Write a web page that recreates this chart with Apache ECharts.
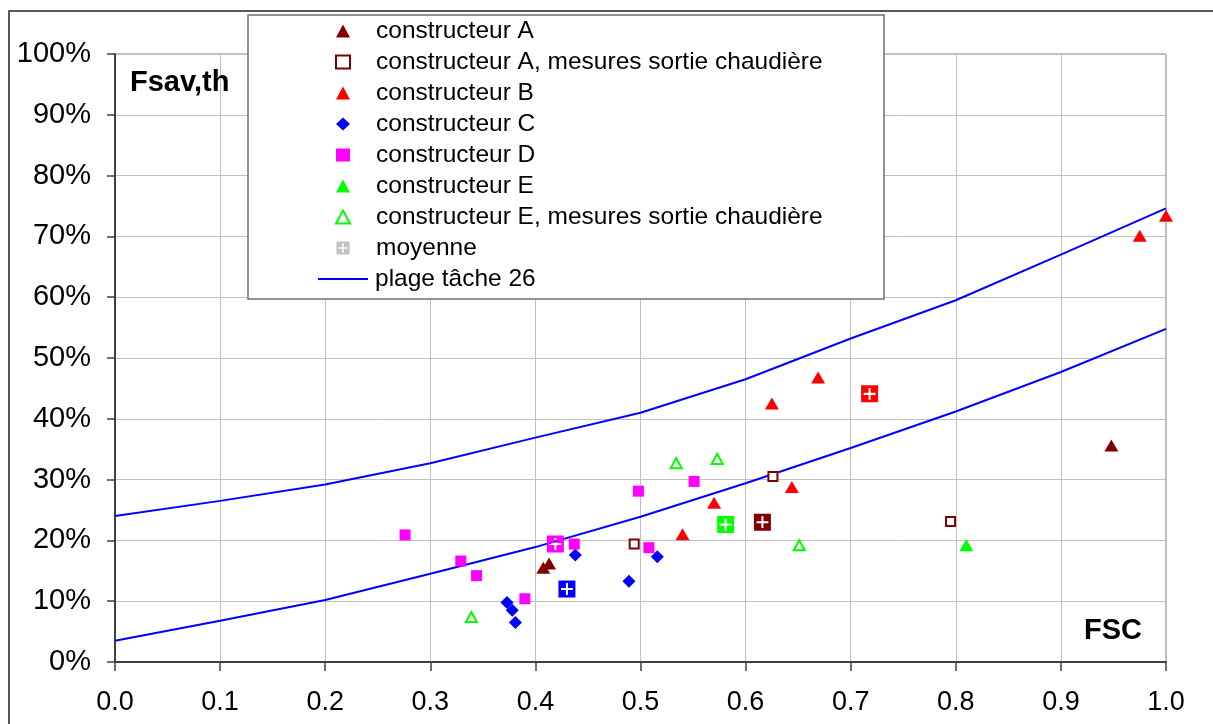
<!DOCTYPE html>
<html>
<head>
<meta charset="utf-8">
<title>Fsav,th en fonction de FSC</title>
<script src="https://cdn.jsdelivr.net/npm/echarts@6/dist/echarts.min.js"></script>
<style>
  html, body { margin: 0; padding: 0; background: #fff; }
  #chart { width: 1213px; height: 724px; }
</style>
</head>
<body>
<div id="chart"></div>
<script>
// abscisses des courbes "plage tâche 26"
const fscGrid = [0.0, 0.1, 0.2, 0.3, 0.4, 0.5, 0.6, 0.7, 0.8, 0.9, 1.0]
const plageHaute = [24.0, 26.5, 29.2, 32.7, 36.9, 41.0, 46.5, 53.2, 59.5, 67.0, 74.6]
const plageBasse = [3.5, 6.8, 10.2, 14.5, 18.9, 23.9, 29.4, 35.2, 41.2, 47.7, 54.8]

// points mesurés [FSC, Fsav,th en %]
const constA = [[0.4075, 15.5], [0.413, 16.2], [0.948, 35.6]]
const constASortie = [[0.494, 19.4], [0.626, 30.5], [0.795, 23.1]]
const constB = [[0.540, 21.0], [0.570, 26.2], [0.625, 42.5], [0.644, 28.8], [0.669, 46.8], [0.975, 70.1], [1.0, 73.4]]
const constC = [[0.373, 9.8], [0.378, 8.5], [0.381, 6.5], [0.438, 17.6], [0.489, 13.3], [0.516, 17.3]]
const constD = [[0.276, 20.9], [0.329, 16.6], [0.344, 14.2], [0.390, 10.4], [0.437, 19.4], [0.498, 28.1], [0.508, 18.8], [0.551, 29.7]]
const constE = [[0.810, 19.2]]
const constESortie = [[0.339, 7.4], [0.534, 32.7], [0.573, 33.4], [0.651, 19.2]]
const moyenne = [[0.419, 19.4], [0.430, 12.0], [0.581, 22.6], [0.616, 23.0], [0.718, 44.1]]
const moyenneConstructeur = ['D', 'C', 'E', 'A', 'B']

const yTicks = [0, 10, 20, 30, 40, 50, 60, 70, 80, 90, 100]

const couleurs = { A: '#800000', B: '#ff0000', C: '#0000ff', D: '#ff00ff', E: '#00ff00' }
const font = '"Liberation Sans", Arial, sans-serif'
// carré avec une croix évidée (règle nonzero)
const croixPath = 'path://M0,0H20V20H0Z' +
  'M8.8,3L8.8,8.8L3,8.8L3,11.2L8.8,11.2L8.8,17L11.2,17L11.2,11.2L17,11.2L17,8.8L11.2,8.8L11.2,3Z'

const chart = echarts.init(document.getElementById('chart'))

function nuage (name, data, symbol, size, color, hollow) {
  return {
    name: name,
    type: 'scatter',
    data: data,
    symbol: symbol,
    symbolSize: size,
    z: 3,
    itemStyle: hollow
      ? { color: '#ffffff', borderColor: color, borderWidth: 2, opacity: 1 }
      : { color: color, opacity: 1 },
    emphasis: { disabled: true }
  }
}

function plage (values) {
  return {
    name: 'plage tâche 26',
    type: 'line',
    data: fscGrid.map((x, i) => [x, values[i]]),
    symbol: 'none',
    z: 2,
    lineStyle: { color: '#0000ff', width: 2 },
    itemStyle: { color: '#0000ff' },
    emphasis: { disabled: true }
  }
}

const legendText = { fontSize: 24.5, lineHeight: 26, color: '#000', fontFamily: font }

const option = {
  backgroundColor: '#ffffff',
  animation: false,
  textStyle: { fontFamily: font },
  grid: {
    left: 115,
    right: 47,
    top: 54,
    bottom: 62,
    show: true,
    borderColor: '#808080',
    borderWidth: 1
  },
  xAxis: {
    type: 'value',
    min: 0,
    max: 1,
    interval: 0.1,
    axisLine: { show: true, lineStyle: { color: '#404040', width: 2 } },
    axisTick: { show: true, length: 9, lineStyle: { color: '#404040', width: 1.5 } },
    axisLabel: {
      margin: 27,
      fontSize: 27,
      color: '#000',
      fontFamily: font,
      formatter: v => v.toFixed(1)
    },
    splitLine: { show: true, lineStyle: { color: '#c0c0c0', width: 1 } }
  },
  yAxis: {
    type: 'value',
    min: yTicks[0],
    max: yTicks[yTicks.length - 1],
    interval: 10,
    axisLine: { show: true, lineStyle: { color: '#404040', width: 2 } },
    axisTick: { show: true, length: 8, lineStyle: { color: '#404040', width: 1.5 } },
    axisLabel: {
      margin: 24,
      fontSize: 29,
      color: '#000',
      fontFamily: font,
      formatter: '{value}%'
    },
    splitLine: { show: true, lineStyle: { color: '#c0c0c0', width: 1 } }
  },
  legend: [
    {
      // marqueurs
      orient: 'vertical',
      left: 335,
      top: 18,
      z: 20,
      padding: 0,
      itemGap: 5,
      itemWidth: 14,
      itemHeight: 13,
      selectedMode: false,
      textStyle: Object.assign({ padding: [0, 0, 0, 21] }, legendText),
      data: [
        'constructeur A',
        'constructeur A, mesures sortie chaudière',
        'constructeur B',
        'constructeur C',
        'constructeur D',
        'constructeur E',
        'constructeur E, mesures sortie chaudière',
        { name: 'moyenne', icon: croixPath }
      ]
    },
    {
      // courbes
      orient: 'vertical',
      left: 318,
      top: 266,
      z: 20,
      padding: 0,
      itemWidth: 50,
      itemHeight: 2,
      selectedMode: false,
      textStyle: Object.assign({ padding: [0, 0, 0, 2] }, legendText),
      data: [{ name: 'plage tâche 26', icon: 'rect' }]
    }
  ],
  graphic: [
    {
      // cadre extérieur
      type: 'rect',
      z: 1,
      shape: { x: 9, y: 11, width: 1240, height: 740 },
      style: { fill: 'none', stroke: '#222', lineWidth: 1.5 }
    },
    {
      // cadre de la légende
      type: 'rect',
      z: 10,
      shape: { x: 248, y: 15, width: 636, height: 284 },
      style: { fill: '#ffffff', stroke: '#707070', lineWidth: 1.5 }
    },
    {
      type: 'text',
      z: 10,
      x: 130,
      y: 83,
      style: {
        text: 'Fsav,th',
        font: 'bold 29px ' + font,
        fill: '#000',
        verticalAlign: 'middle',
        textVerticalAlign: 'middle'
      }
    },
    {
      type: 'text',
      z: 10,
      x: 1142,
      y: 631,
      style: {
        text: 'FSC',
        font: 'bold 29px ' + font,
        fill: '#000',
        align: 'right',
        textAlign: 'right',
        verticalAlign: 'middle',
        textVerticalAlign: 'middle'
      }
    }
  ],
  series: [
    nuage('constructeur A', constA, 'triangle', [14, 12], couleurs.A, false),
    nuage('constructeur A, mesures sortie chaudière', constASortie, 'rect', 9, couleurs.A, true),
    nuage('constructeur B', constB, 'triangle', [14, 12], couleurs.B, false),
    nuage('constructeur C', constC, 'diamond', 13, couleurs.C, false),
    nuage('constructeur D', constD, 'rect', 11, couleurs.D, false),
    nuage('constructeur E', constE, 'triangle', [14, 12], couleurs.E, false),
    nuage('constructeur E, mesures sortie chaudière', constESortie, 'triangle', [11, 10], couleurs.E, true),
    {
      name: 'moyenne',
      type: 'scatter',
      symbol: croixPath,
      symbolSize: 17,
      z: 4,
      itemStyle: { color: '#c0c0c0', opacity: 1 },
      emphasis: { disabled: true },
      data: moyenne.map((p, i) => ({
        value: p,
        itemStyle: { color: couleurs[moyenneConstructeur[i]] }
      }))
    },
    plage(plageHaute),
    plage(plageBasse)
  ]
}

chart.setOption(option)
</script>
</body>
</html>
